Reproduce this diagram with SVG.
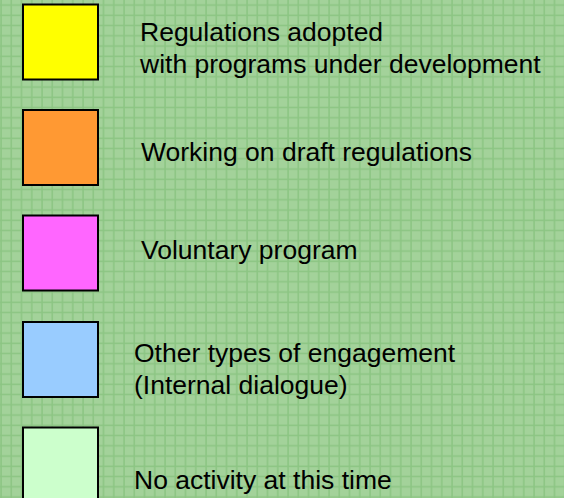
<svg xmlns="http://www.w3.org/2000/svg" width="564" height="498" viewBox="0 0 564 498">
  <defs>
    <pattern id="grid" patternUnits="userSpaceOnUse" x="0" y="0" width="10.25" height="10.25">
      <rect x="0" y="0" width="10.25" height="10.25" fill="#a3d29a"/>
      <rect x="0.3" y="0" width="1.5" height="10.25" fill="#8cc583"/>
      <rect x="0" y="4.3" width="10.25" height="1.5" fill="#8cc583"/>
    </pattern>
    <style>
      .sw { stroke: #000; stroke-width: 2; }
      .lbl { font-family: "Liberation Sans", Arial, sans-serif; font-size: 26.5px; fill: #000; }
    </style>
  </defs>
  <rect id="background" x="0" y="0" width="564" height="498" fill="url(#grid)"/>
  <g id="item-regulations-adopted">
    <rect class="sw" x="23" y="4.5" width="75" height="75" fill="#ffff00"/>
    <text class="lbl" x="140" y="41">Regulations adopted</text>
    <text class="lbl" x="140" y="73">with programs under development</text>
  </g>
  <g id="item-draft-regulations">
    <rect class="sw" x="23" y="110" width="75" height="75" fill="#ff9933"/>
    <text class="lbl" x="141" y="161">Working on draft regulations</text>
  </g>
  <g id="item-voluntary">
    <rect class="sw" x="23" y="215.5" width="75" height="75" fill="#ff66ff"/>
    <text class="lbl" x="141" y="259">Voluntary program</text>
  </g>
  <g id="item-other-engagement">
    <rect class="sw" x="23" y="322" width="75" height="75" fill="#99ccff"/>
    <text class="lbl" x="134" y="362">Other types of engagement</text>
    <text class="lbl" x="134" y="394">(Internal dialogue)</text>
  </g>
  <g id="item-no-activity">
    <rect class="sw" x="23" y="427.5" width="75" height="80" fill="#ccffcc"/>
    <text class="lbl" x="134" y="489">No activity at this time</text>
  </g>
</svg>
